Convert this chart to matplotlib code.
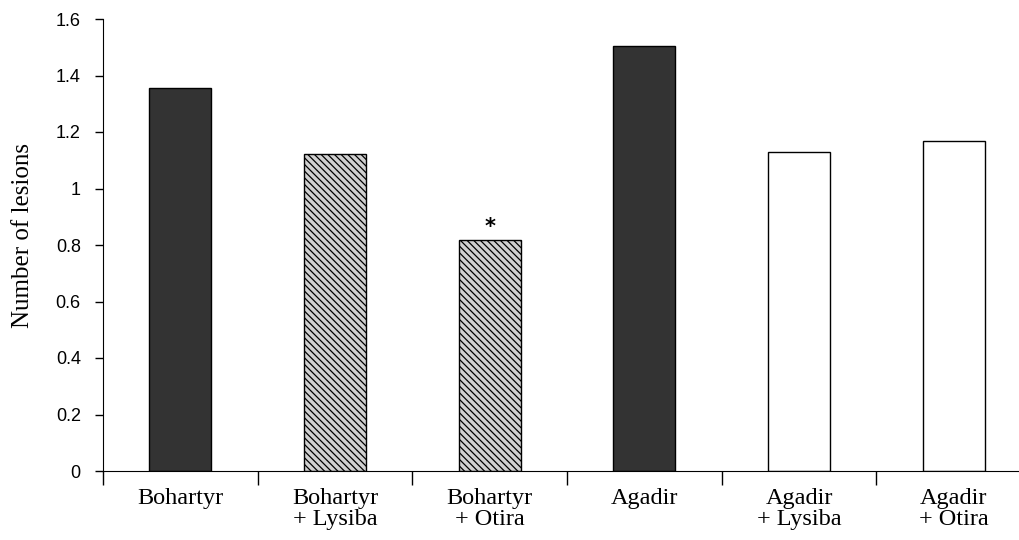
import matplotlib.pyplot as plt
import numpy as np

categories = ["Bohartyr", "Bohartyr\n+ Lysiba", "Bohartyr\n+ Otira",
              "Agadir", "Agadir\n+ Lysiba", "Agadir\n+ Otira"]
lesions = [1.356, 1.122, 0.818, 1.504, 1.129, 1.168]
fills = ["dark", "hatch", "hatch", "dark", "white", "white"]
yticks = [0, 0.2, 0.4, 0.6, 0.8, 1.0, 1.2, 1.4, 1.6]
ytick_labels = ["0", "0.2", "0.4", "0.6", "0.8", "1", "1.2", "1.4", "1.6"]

plt.rcParams["hatch.linewidth"] = 0.9
plt.rcParams["hatch.color"] = "#555555"

fig = plt.figure(figsize=(10.19, 5.4), dpi=100)
ax = fig.add_axes([103 / 1019, 69 / 540, 928 / 1019, 452 / 540])

x = np.arange(len(categories)) + 0.5
for xi, v, f in zip(x, lesions, fills):
    if f == "dark":
        ax.bar(xi, v, width=0.4, color="#333333", edgecolor="black", linewidth=1)
    elif f == "hatch":
        ax.bar(xi, v, width=0.4, color="#d0d0d0", edgecolor="black",
               linewidth=1, hatch="\\\\\\\\\\")
    else:
        ax.bar(xi, v, width=0.4, color="white", edgecolor="black", linewidth=1)

# significance mark
ax.text(x[2], lesions[2] + 0.012, "*", ha="center", va="bottom",
        fontsize=15, fontweight="bold", family="DejaVu Sans")

ax.set_xlim(0, 6)
ax.set_ylim(0, 1.6)
ax.spines["top"].set_visible(False)
ax.spines["right"].set_visible(False)

ax.set_yticks(yticks)
ax.set_yticklabels(ytick_labels, family="Liberation Sans", fontsize=13)
ax.tick_params(axis="y", direction="out", length=6, width=1, pad=10)

ax.set_xticks(np.arange(0, 7))
ax.set_xticklabels([])
ax.tick_params(axis="x", direction="out", length=10, width=1)
ax.set_xticks(x, minor=True)
ax.set_xticklabels(categories, minor=True, family="Liberation Serif",
                   fontsize=17.5, linespacing=1.0)
ax.tick_params(axis="x", which="minor", length=0, pad=12)

ax.set_ylabel("Number of lesions", family="Liberation Serif", fontsize=18)
ax.yaxis.set_label_coords(-0.074, 0.522)

fig.savefig("out.png", dpi=100)
